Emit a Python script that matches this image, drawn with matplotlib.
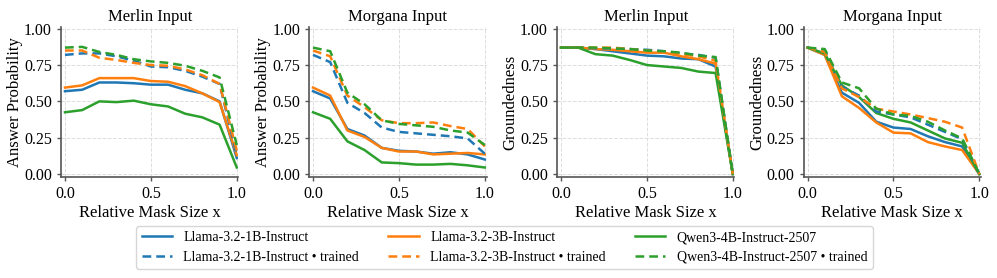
import numpy as np
import matplotlib
matplotlib.use("Agg")
import matplotlib.pyplot as plt

plt.rcParams['font.family'] = ['Liberation Serif', 'DejaVu Serif']

x = np.round(np.arange(0, 1.01, 0.1), 1)

models = ['Llama-3.2-1B-Instruct', 'Llama-3.2-3B-Instruct', 'Qwen3-4B-Instruct-2507']
colors = ['#1f77b4', '#ff7f0e', '#2ca02c']
titles = ['Merlin Input', 'Morgana Input', 'Merlin Input', 'Morgana Input']
ylabels = ['Answer Probability', 'Answer Probability', 'Groundedness', 'Groundedness']

# answer probability, Merlin input
ap_merlin = [
    [0.57, 0.58, 0.63, 0.63, 0.625, 0.615, 0.615, 0.58, 0.555, 0.50, 0.11],
    [0.595, 0.61, 0.66, 0.66, 0.66, 0.64, 0.635, 0.605, 0.555, 0.495, 0.13],
    [0.425, 0.44, 0.50, 0.495, 0.505, 0.48, 0.465, 0.415, 0.39, 0.34, 0.045],
]
ap_merlin_tr = [
    [0.82, 0.83, 0.83, 0.81, 0.78, 0.74, 0.735, 0.71, 0.67, 0.62, 0.13],
    [0.85, 0.85, 0.80, 0.785, 0.765, 0.75, 0.745, 0.72, 0.68, 0.62, 0.16],
    [0.87, 0.875, 0.84, 0.82, 0.79, 0.775, 0.765, 0.745, 0.71, 0.665, 0.20],
]
# answer probability, Morgana input
ap_morgana = [
    [0.57, 0.52, 0.31, 0.265, 0.18, 0.16, 0.155, 0.14, 0.15, 0.135, 0.10],
    [0.595, 0.54, 0.30, 0.255, 0.18, 0.155, 0.155, 0.135, 0.14, 0.145, 0.135],
    [0.425, 0.38, 0.225, 0.165, 0.08, 0.075, 0.065, 0.065, 0.07, 0.06, 0.045],
]
ap_morgana_tr = [
    [0.82, 0.77, 0.49, 0.42, 0.32, 0.29, 0.28, 0.27, 0.26, 0.245, 0.14],
    [0.85, 0.81, 0.54, 0.46, 0.37, 0.35, 0.35, 0.355, 0.33, 0.31, 0.19],
    [0.87, 0.845, 0.56, 0.48, 0.37, 0.345, 0.335, 0.325, 0.30, 0.285, 0.20],
]
# groundedness, Merlin input
gr_merlin = [
    [0.87, 0.87, 0.86, 0.845, 0.83, 0.815, 0.81, 0.795, 0.79, 0.74, 0.0],
    [0.87, 0.87, 0.86, 0.855, 0.845, 0.835, 0.835, 0.81, 0.79, 0.76, 0.0],
    [0.87, 0.87, 0.825, 0.815, 0.785, 0.75, 0.74, 0.73, 0.705, 0.695, 0.0],
]
gr_merlin_tr = [
    [0.87, 0.87, 0.865, 0.865, 0.86, 0.855, 0.845, 0.83, 0.82, 0.80, 0.0],
    [0.87, 0.87, 0.87, 0.87, 0.86, 0.85, 0.84, 0.825, 0.81, 0.78, 0.0],
    [0.87, 0.87, 0.87, 0.865, 0.86, 0.85, 0.845, 0.835, 0.815, 0.805, 0.0],
]
# groundedness, Morgana input
gr_morgana = [
    [0.87, 0.82, 0.56, 0.49, 0.36, 0.32, 0.31, 0.26, 0.22, 0.19, 0.0],
    [0.87, 0.82, 0.535, 0.455, 0.355, 0.285, 0.28, 0.22, 0.19, 0.165, 0.0],
    [0.87, 0.83, 0.61, 0.53, 0.42, 0.38, 0.355, 0.30, 0.245, 0.215, 0.0],
]
gr_morgana_tr = [
    [0.87, 0.85, 0.60, 0.54, 0.43, 0.41, 0.39, 0.34, 0.29, 0.24, 0.0],
    [0.87, 0.84, 0.59, 0.53, 0.45, 0.43, 0.41, 0.385, 0.36, 0.32, 0.0],
    [0.87, 0.86, 0.63, 0.59, 0.45, 0.41, 0.40, 0.36, 0.30, 0.245, 0.0],
]

panels = [(ap_merlin, ap_merlin_tr), (ap_morgana, ap_morgana_tr),
          (gr_merlin, gr_merlin_tr), (gr_morgana, gr_morgana_tr)]

fig = plt.figure(figsize=(9.97, 2.78), dpi=100)
lefts = [0.0612, 0.310, 0.5587, 0.806]

for i, (base, trained) in enumerate(panels):
    ax = fig.add_axes([lefts[i], 0.364, 0.178, 0.539])
    for k in range(3):
        ax.plot(x, base[k], color=colors[k], lw=1.8, label=models[k])
    for k in range(3):
        ax.plot(x, trained[k], color=colors[k], lw=1.8, ls=(0, (3.5, 2)),
                label=models[k] + ' \u2022 trained')
    ax.set_xlim(-0.023, 1.01)
    ax.set_ylim(-0.019, 1.012)
    ax.set_xticks([0.0, 0.5, 1.0])
    ax.set_yticks([0.0, 0.25, 0.5, 0.75, 1.0])
    ax.set_yticklabels(['0.00', '0.25', '0.50', '0.75', '1.00'])
    ax.grid(True, ls='--', color='#dddddd', lw=0.7)
    ax.set_axisbelow(True)
    for s in ['top', 'right']:
        ax.spines[s].set_visible(False)
    for s in ['left', 'bottom']:
        ax.spines[s].set_color('#555555')
        ax.spines[s].set_linewidth(1.2)
    ax.tick_params(colors='#555555', labelcolor='black', labelsize=11.5, length=3, width=1)
    ax.set_title(titles[i], fontsize=12, pad=4)
    ax.set_ylabel(ylabels[i], fontsize=12, labelpad=1)
    ax.set_xlabel('Relative Mask Size x', fontsize=12, labelpad=2)
    if i == 0:
        handles, labels = ax.get_legend_handles_labels()

order = [0, 3, 1, 4, 2, 5]
fig.legend([handles[j] for j in order], [labels[j] for j in order],
           loc='center', bbox_to_anchor=(0.506, 0.11), ncol=3, fontsize=10,
           frameon=True, edgecolor='#cccccc', handlelength=2.2,
           columnspacing=2.1, borderpad=0.4, labelspacing=0.45)

fig.savefig('out.png', dpi=100)
